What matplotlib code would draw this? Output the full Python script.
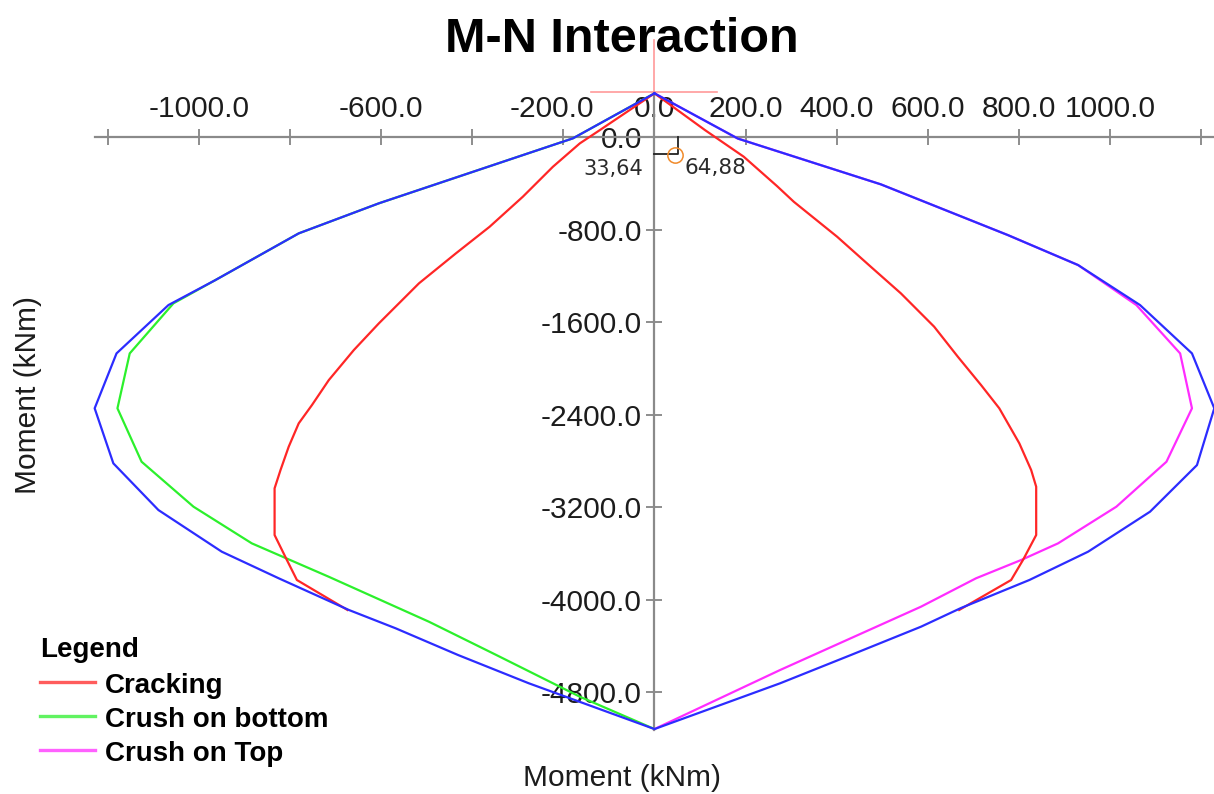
import numpy as np
import matplotlib
matplotlib.use("Agg")
import matplotlib.pyplot as plt
from matplotlib.lines import Line2D
from matplotlib.transforms import ScaledTranslation

W, H = 1214, 794
plt.rcParams["font.family"] = ["Liberation Sans", "DejaVu Sans"]

# envelope (blue): left side top -> bottom, then right side bottom -> top
env_m = [0, -179, -605, -781, -964, -1067, -1181, -1229, -1188, -1089, -950, -825, -671, -568,
         -431, -276, 0, 276, 431, 585, 673, 823, 952, 1088, 1191, 1229, 1180, 1066, 930, 776,
         497, 183, 0]
env_n = [378, -11, -573, -833, -1237, -1453, -1871, -2346, -2822, -3226, -3586, -3816, -4090, -4249,
         -4480, -4724, -5120, -4724, -4480, -4235, -4073, -3831, -3586, -3240, -2837, -2346, -1871, -1453,
         -1107, -848, -409, -13, 378]

# cracking (red), left end -> apex -> right end
crack_m = [-674, -785, -807, -834, -834, -821, -803, -781, -752, -715, -660, -605, -517, -436,
           -362, -289, -223, -164, -120, 0, 111, 196, 269, 306, 401, 475, 541, 614, 666, 717,
           757, 801, 827, 838, 838, 809, 783, 669]
crack_n = [-4090, -3831, -3658, -3442, -3038, -2880, -2678, -2476, -2318, -2102, -1842, -1611, -1265, -1006,
           -776, -516, -257, -55, 60, 378, 60, -170, -424, -560, -862, -1122, -1352, -1640, -1900, -2145,
           -2346, -2649, -2880, -3024, -3442, -3658, -3831, -4090]

# crush on bottom (green)
bot_m = [0, -179, -605, -781, -964, -1056, -1152, -1179, -1126, -1012, -884, -715, -495, -347, -164, 0]
bot_n = [378, -11, -573, -833, -1237, -1438, -1871, -2346, -2808, -3197, -3514, -3803, -4192, -4480, -4840, -5120]

# crush on top (magenta)
top_m = [0, 183, 497, 776, 930, 1058, 1154, 1180, 1124, 1014, 886, 805, 706, 585, 276, 0]
top_n = [378, -13, -409, -848, -1107, -1453, -1871, -2346, -2808, -3197, -3514, -3658, -3816, -4062, -4609, -5120]

x_ticks = [-1200, -1000, -800, -600, -400, -200, 0, 200, 400, 600, 800, 1000, 1200]
x_labels = ["", "-1000.0", "", "-600.0", "", "-200.0", "0.0", "200.0", "400.0", "600.0", "800.0", "1000.0", ""]
y_ticks = [0, -800, -1600, -2400, -3200, -4000, -4800]
y_labels = ["0.0", "-800.0", "-1600.0", "-2400.0", "-3200.0", "-4000.0", "-4800.0"]

point_m, point_n = 45, -156        # design point
guide_m, guide_n = 52, -147        # black guide corner
cursor_n, cursor_top = 387, 840    # pink cursor cross
cursor_half = 137
point_labels = ["33,64", "64,88"]

legend_labels = ["Cracking", "Crush on bottom", "Crush on Top"]
c_red, c_green, c_mag, c_blue = "#ff2626", "#2cf02c", "#ff2cff", "#2c2cff"
axis_gray = "#8a8a8a"

fig = plt.figure(figsize=(W / 100, H / 100), dpi=100)
ax = fig.add_axes([85.1 / W, (H - 738.3) / H, 1138.75 / W, 705.3 / H])
ax.set_xlim(-1250, 1250)
ax.set_ylim(-5200, 900)

# pink cursor cross
ax.plot([0, 0], [cursor_n - 9, cursor_top], color="#ff9a9a", lw=1.2, clip_on=False, zorder=1)
ax.plot([-cursor_half - 2, cursor_half], [cursor_n, cursor_n], color="#ff9a9a", lw=1.2, clip_on=False, zorder=1)

lw = 1.6
ax.plot(bot_m, bot_n, color=c_green, lw=lw, zorder=3, clip_on=False)
ax.plot(top_m, top_n, color=c_mag, lw=lw, zorder=3, clip_on=False)
ax.plot(crack_m, crack_n, color=c_red, lw=lw, zorder=4, clip_on=False)
ax.plot(env_m, env_n, color=c_blue, lw=lw, zorder=5, clip_on=False)

# design point and guides
ax.plot([0, guide_m, guide_m], [guide_n, guide_n, 0], color="#222222", lw=1.3, zorder=6)
ax.plot([point_m], [point_n], marker="o", ms=11, mfc="none", mec="#f08a2a", mew=1.1, zorder=6)
ax.text(-25, -330, point_labels[0], family="DejaVu Sans", fontsize=15, color="#2b2b2b", ha="right", va="baseline")
ax.text(67, -318, point_labels[1], family="DejaVu Sans", fontsize=15.5, color="#2b2b2b", ha="left", va="baseline")

for s in ["right", "bottom"]:
    ax.spines[s].set_visible(False)
ax.spines["top"].set_position(("data", 0))
ax.spines["top"].set_bounds(-1229, 1229)
ax.spines["left"].set_position(("data", 0))
ax.spines["left"].set_bounds(-5130, 378)
for s in ["top", "left"]:
    ax.spines[s].set_color(axis_gray)
    ax.spines[s].set_linewidth(1.6)
    ax.spines[s].set_zorder(2)
ax.xaxis.set_ticks_position("top")
ax.set_xticks(x_ticks, x_labels)
ax.set_yticks(y_ticks, y_labels)
ax.tick_params(axis="both", direction="inout", length=12, width=1.2, color="#7a7a7a",
               labelsize=21.5, labelcolor="#1c1c1c")
ax.tick_params(axis="x", pad=4)
ax.tick_params(axis="y", pad=3)
ax.patch.set_visible(False)

# the -200 label sits a little left of its tick so it clears "0.0"
lbl = ax.get_xticklabels()[5]
lbl.set_transform(lbl.get_transform() + ScaledTranslation(-8 / 72, 0, fig.dpi_scale_trans))

fig.text(622 / W, 1 - 52 / H, "M-N Interaction", fontsize=35, fontweight="bold", ha="center", va="baseline")
fig.text(622 / W, 1 - 786 / H, "Moment (kNm)", fontsize=21.5, ha="center", va="baseline", color="#1c1c1c")
fig.text(28 / W, 1 - 395 / H, "Moment (kNm)", fontsize=21.5, rotation=90, ha="center", va="center", color="#1c1c1c")

# legend
fig.text(40 / W, 1 - 657 / H, "Legend", fontsize=20, fontweight="bold", ha="left", va="baseline")
for i, (lab, col) in enumerate(zip(legend_labels, [c_red, c_green, c_mag])):
    y = 682 + 34 * i
    fig.add_artist(Line2D([40 / W, 95 / W], [1 - y / H, 1 - y / H], color=col, lw=2.4, alpha=0.75))
    fig.text(105 / W, 1 - (y + 11) / H, lab, fontsize=20, fontweight="bold", ha="left", va="baseline")

fig.savefig("out.png", dpi=100)
